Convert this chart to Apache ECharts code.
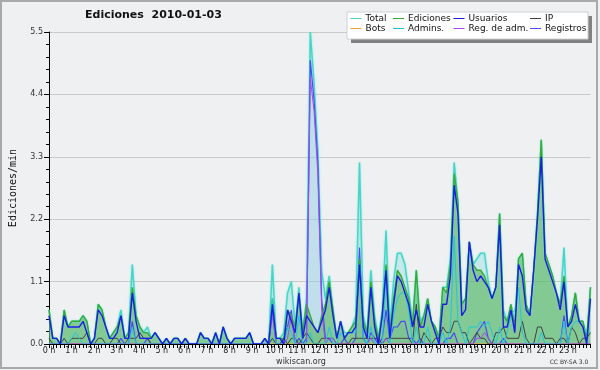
<!DOCTYPE html>
<html><head><meta charset="utf-8">
<script src="https://cdn.jsdelivr.net/npm/echarts@6/dist/echarts.min.js"></script>
<style>html,body{margin:0;padding:0;background:#fff}#c{width:600px;height:370px}</style>
</head><body><div id="c"></div>
<script>
// 10-minute samples, 144 points across 0 h .. 24 h
const hourLabels = ['0 h','1 h','2 h','3 h','4 h','5 h','6 h','7 h','8 h','9 h','10 h','11 h','12 h','13 h','14 h','15 h','16 h','17 h','18 h','19 h','20 h','21 h','22 h','23 h'];
const totalV = [
.6,.1,.1,0,.6,.3,.4,.4,.4,.5,.4,0,
.1,.7,.6,.3,.1,.2,.3,.6,.1,.2,1.4,.5,
.3,.2,.3,.1,.2,.1,0,.1,0,.1,.1,0,
.1,0,0,0,.2,.1,.1,0,.2,0,.3,.1,
0,.1,.1,.1,.1,.2,0,0,0,.1,0,1.4,
.1,.1,.2,.9,1.1,.3,1.0,.2,.8,5.5,4.6,3.4,
1.3,.8,1.2,.6,.1,.4,.2,.2,.3,.5,3.2,.5,
.2,1.3,.5,.1,.6,2.0,.3,1.1,1.6,1.6,1.4,.9,
.4,1.3,.4,.5,.8,.4,.3,.1,1.0,1.0,1.5,3.2,
2.5,.7,.8,1.8,1.4,1.5,1.6,1.6,1.1,.8,1.0,2.3,
.6,.4,.7,.3,1.5,1.6,.7,.5,1.3,2.3,3.6,1.6,
1.4,1.2,.9,.7,1.7,.3,.5,.9,.4,.4,.1,1.0];
const edicionesV = [
.6,.1,.1,0,.6,.3,.4,.4,.4,.5,.4,0,
.1,.7,.6,.3,.1,.2,.3,.5,.1,.2,1.0,.5,
.3,.2,.2,.1,.2,.1,0,.1,0,.1,.1,0,
.1,0,0,0,.2,.1,.1,0,.2,0,.3,.1,
0,.1,.1,.1,.1,.2,0,0,0,.1,0,.8,
.1,.1,.1,.6,.5,.3,.9,.2,.7,.5,.3,.2,
.5,.7,1.1,.6,.1,.4,.1,.2,.3,.4,1.5,.4,
.2,1.1,.4,.1,.5,1.4,.2,.8,1.3,1.2,1.0,.8,
.3,1.3,.3,.5,.8,.4,.3,.1,1.0,.9,1.4,3.0,
2.5,.7,.8,1.8,1.4,1.3,1.3,1.2,1.0,.8,1.0,2.3,
.5,.4,.7,.3,1.5,1.6,.7,.5,1.3,2.3,3.6,1.6,
1.4,1.2,.9,.7,1.2,.3,.5,.9,.4,.4,.1,1.0];
const usuariosV = [
.5,.1,.1,0,.5,.3,.3,.3,.3,.4,.2,0,
.1,.6,.5,.3,.1,.1,.2,.5,.1,.1,.9,.4,
.1,.1,.1,.1,.2,.1,0,.1,0,.1,.1,0,
.1,0,0,0,.2,.1,.1,0,.2,0,.3,.1,
0,.1,.1,.1,.1,.2,0,0,0,.1,0,.7,
.1,.1,0,.6,.4,.2,.9,.1,.5,.4,.3,.2,
.4,.6,1.0,.5,.1,.4,.1,.2,.2,.3,1.4,.3,
.1,1.0,.3,0,.5,1.3,.1,.7,1.2,1.1,.9,.7,
.3,.6,.3,.3,.7,.4,.2,0,.7,.7,1.2,2.8,
2.3,.5,.6,1.8,1.3,1.1,1.2,1.1,1.0,.8,1.0,2.1,
.3,.3,.6,.2,1.4,1.2,.6,.5,1.3,2.2,3.3,1.5,
1.3,1.1,.9,.6,1.1,.3,.4,.7,.4,.3,0,.8];
const ipV = [
.1,0,0,0,.1,0,.1,.1,.1,.1,.2,0,
0,.1,.1,0,0,.1,.1,0,0,.1,.1,.1,
.2,.1,.1,0,0,0,0,0,0,0,0,0,
0,0,0,0,0,0,0,0,0,0,0,0,
0,0,0,0,0,0,0,0,0,0,0,.1,
0,0,.1,0,.1,.1,0,.1,.2,.1,0,0,
.1,.1,.1,.1,0,0,0,0,.1,.1,.1,.1,
.1,.1,.1,.1,0,.1,.1,.1,.1,.1,.1,.1,
0,.7,0,.2,.1,0,.1,.1,.3,.2,.2,.4,
.4,.2,.2,0,.1,.2,.1,.1,0,0,.2,.2,
.3,.1,.1,.1,.1,.4,.1,0,0,.3,.3,.1,
.1,.1,0,.1,.1,0,.3,.2,0,.1,.1,.2];
const botsV = [
0,0,0,0,0,0,0,0,0,0,0,0, 0,0,0,0,0,0,0,0,0,0,0,0,
0,0,0,0,0,0,0,0,0,0,0,0, 0,0,0,0,0,0,0,0,0,0,0,0,
0,0,0,0,0,0,0,0,0,0,0,0, 0,0,0,0,0,0,0,0,0,0,0,0,
0,0,0,0,0,0,0,0,0,0,0,0, 0,0,0,0,0,0,0,0,0,0,0,0,
0,0,0,0,0,0,0,0,0,0,0,0, 0,0,0,0,0,0,0,0,0,0,0,0,
0,0,0,0,0,0,0,0,0,0,0,0, 0,0,0,0,0,0,0,0,0,0,0,0];
const adminsV = [
0,0,0,0,0,0,.1,.2,.1,0,0,0,
0,0,0,0,0,0,0,0,0,0,.3,0,
0,0,0,0,0,0,0,0,0,0,0,0,
0,0,0,0,0,0,0,0,0,0,0,0,
0,0,0,0,0,0,0,0,0,0,0,.8,
0,0,0,.3,.2,0,.5,0,0,.2,0,0,
0,0,.3,0,0,.2,.1,.2,.2,.2,1.4,.1,
0,.3,0,0,0,1.2,0,.5,.8,.9,.9,.6,
0,.3,0,0,.3,0,0,0,.2,0,.3,1.9,
.4,.2,0,.3,.3,.3,.4,.3,.4,.2,0,.3,
0,.2,.5,.6,1.0,.2,0,0,0,0,.2,0,
0,0,0,0,.4,0,.3,.4,.4,.3,.2,.2];
const regAdmV = [
0,0,0,0,0,0,0,0,0,0,0,0, 0,0,0,0,0,0,0,0,0,0,0,0,
0,0,0,0,0,0,0,0,0,0,0,0, 0,0,0,0,0,0,0,0,0,0,0,0,
0,0,0,0,0,0,0,0,0,0,0,.5,
0,0,0,.1,.5,0,0,0,0,4.7,4.1,3.0,
.6,0,.1,.1,0,0,0,0,0,0,0,0,
0,.1,0,0,0,.1,0,0,0,0,0,0,
0,0,0,0,0,0,0,0,0,0,0,0,
0,0,0,0,0,.1,.1,.2,.1,0,0,0,
0,0,0,0,0,0,0,0,0,0,0,0,
0,0,0,0,0,0,0,0,0,0,0,0];
const registrosV = [
0,0,0,0,0,0,0,0,0,0,0,0,
0,0,0,0,0,0,0,.1,0,0,.4,0,
0,0,.1,0,0,0,0,0,0,0,0,0,
0,0,0,0,0,0,0,0,0,0,0,0,
0,0,0,0,0,0,0,0,0,0,0,.6,
0,0,.1,.3,.6,0,.1,0,.1,5.0,4.3,3.2,
.8,.1,.1,0,0,0,.1,0,0,.1,1.7,.1,
0,.2,.1,0,.1,.6,.1,.3,.3,.4,.4,.1,
.1,0,.1,0,0,0,0,0,0,.1,.1,.2,
0,0,0,0,0,.2,.3,.4,.1,0,0,0,
.1,0,0,0,0,0,0,0,0,0,0,0,
0,0,0,0,.5,0,0,0,0,0,0,0];

const N = totalV.length;
const t = i => i * 24 / (N - 1);
const pts = arr => arr.map((v, i) => [t(i), v]);

const F = 'DejaVu Sans';
function lineSeries(name, data, color, width, area, extra) {
  const s = {
    name, type: 'line', data: pts(data), color,
    showSymbol: false, symbol: 'none', smooth: false,
    lineStyle: { color, width },
    emphasis: { disabled: true }
  };
  if (area) s.areaStyle = { color: area, opacity: 1 };
  return Object.assign(s, extra || {});
}

const legendPos = [
  ['Total', 350.5, 14], ['Ediciones', 393, 14], ['Usuarios', 453.5, 14], ['IP', 530, 14],
  ['Bots', 350.5, 24], ['Admins.', 393, 24], ['Reg. de adm.', 453.5, 24], ['Registros', 530, 24]
];

const chart = echarts.init(document.getElementById('c'), null, { renderer: 'canvas' });
chart.setOption({
  animation: false,
  backgroundColor: '#eff0f1',
  title: {
    text: 'Ediciones  2010-01-03', left: 85, top: 10, padding: 0,
    textStyle: { fontFamily: F, fontSize: 11, fontWeight: 'bold', color: '#111' }
  },
  legend: legendPos.map(([n, x, y]) => ({
    data: [n], left: x, top: y, padding: 0, icon: 'rect', itemWidth: 11, itemHeight: 1,
    selectedMode: false, z: 20,
    textStyle: { fontFamily: F, fontSize: 9, color: '#111', padding: [0, 0, 0, -1] }
  })),
  grid: { left: 46, right: 9.5, top: 32, bottom: 26 },
  xAxis: {
    type: 'value', min: 0, max: 24, interval: 1, z: 5,
    axisLine: { show: true, lineStyle: { color: '#000', width: 1 } },
    axisTick: { show: true, length: 4, lineStyle: { color: '#000' } },
    minorTick: { show: true, splitNumber: 6, length: 4, lineStyle: { color: '#000' } },
    splitLine: { show: false },
    axisLabel: {
      margin: 3, fontFamily: F, fontSize: 8, color: '#222',
      formatter: v => (v < 24 ? hourLabels[Math.round(v)] : '')
    }
  },
  yAxis: {
    type: 'value', min: 0, max: 5.5, interval: 1.1,
    name: 'Ediciones/min', nameLocation: 'middle', nameGap: 31, nameRotate: 90,
    nameTextStyle: { fontFamily: 'DejaVu Sans Mono', fontSize: 10, color: '#111' },
    axisLine: { show: true, lineStyle: { color: '#000', width: 1 } },
    axisTick: { show: true, length: 5, lineStyle: { color: '#000' } },
    minorTick: { show: true, splitNumber: 5, length: 3, lineStyle: { color: '#000' } },
    splitLine: { show: true, lineStyle: { color: '#c9c9c9', width: 1 } },
    axisLabel: { margin: 6, fontFamily: F, fontSize: 8, color: '#333', formatter: v => v.toFixed(1) }
  },
  series: [
    lineSeries('Total', totalV, '#45d6ca', 1.5, 'rgba(150,222,228,0.42)',
      { lineStyle: { color: '#45d6ca', width: 1.5, shadowColor: 'rgba(120,230,220,0.8)', shadowBlur: 2 } }),
    lineSeries('Registros', registrosV, '#4a4af4', 1.2, 'rgba(120,165,225,0.12)'),
    lineSeries('Ediciones', edicionesV, '#35aa35', 1.4, 'rgba(60,170,60,0.5)'),
    lineSeries('Bots', botsV, '#f5a030', 1),
    lineSeries('IP', ipV, '#404040', 1),
    lineSeries('Reg. de adm.', regAdmV, '#a848e8', 1),
    lineSeries('Admins.', adminsV, '#22c6de', 1),
    lineSeries('Usuarios', usuariosV, '#1c1ce8', 1.4)
  ],
  graphic: [
    { type: 'rect', z: 0, silent: true, shape: { x: 1, y: 1, width: 596, height: 367 },
      style: { fill: 'none', stroke: '#a9a9a9', lineWidth: 2 } },
    { type: 'rect', z: 15, silent: true, shape: { x: 351, y: 16, width: 241, height: 27 },
      style: { fill: '#828282' } },
    { type: 'rect', z: 16, silent: true, shape: { x: 347, y: 12, width: 241, height: 27 },
      style: { fill: '#ffffff', stroke: '#d0d0d0', lineWidth: 1 } },
    { type: 'text', z: 16, silent: true, x: 301, y: 362,
      style: { text: 'wikiscan.org', fontFamily: F, fontSize: 8, fill: '#333', align: 'center', verticalAlign: 'middle' } },
    { type: 'text', z: 16, silent: true, x: 569, y: 362.5,
      style: { text: 'CC BY-SA 3.0', fontFamily: F, fontSize: 6, fill: '#333', align: 'center', verticalAlign: 'middle' } }
  ]
});
</script></body></html>
